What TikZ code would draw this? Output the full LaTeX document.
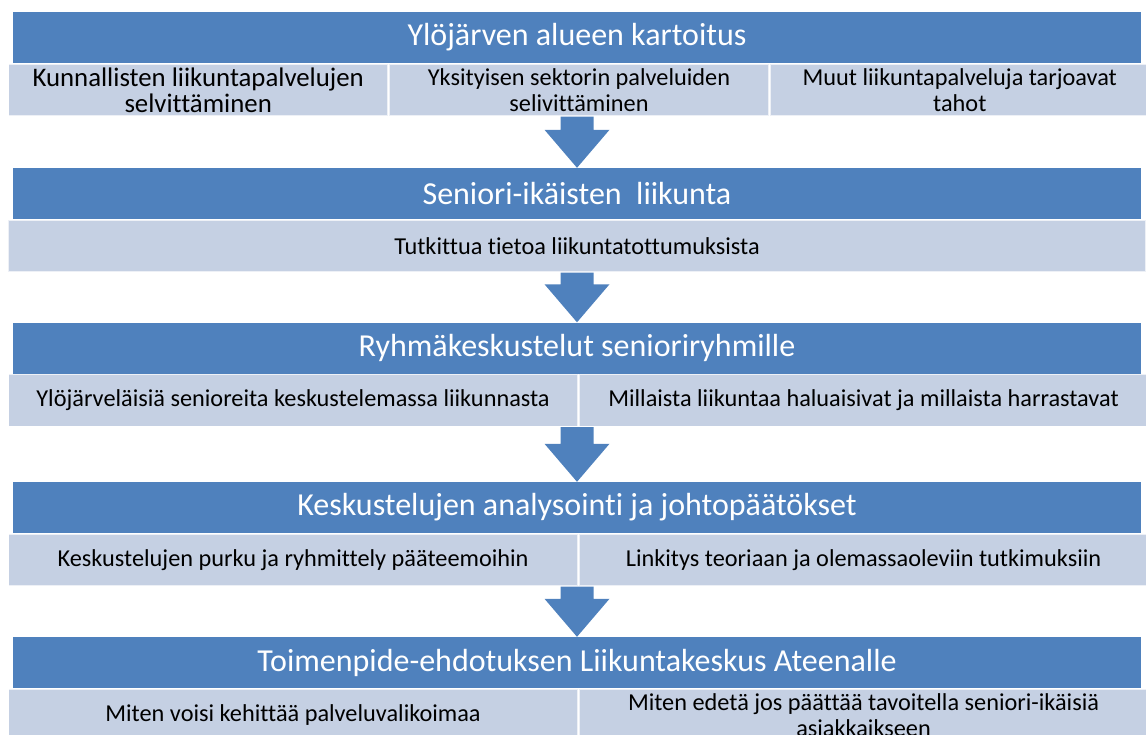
\documentclass[tikz,border=0pt]{standalone}
\usepackage{fontspec}
\setmainfont{Carlito}[Ligatures=CommonOff]
\usetikzlibrary{positioning}

\definecolor{headblue}{RGB}{79,129,189}
\definecolor{subblue}{RGB}{197,208,227}

\begin{document}
\begin{tikzpicture}[x=1pt, y=-1pt,
  header/.style={fill=headblue, text=white, minimum width=1128pt, minimum height=51pt,
    inner sep=0pt, font=\fontsize{32}{36}\selectfont},
  subbox/.style={fill=subblue, draw=white, draw opacity=0.7, line width=1.5pt,
    minimum height=52pt, inner sep=2pt, align=center, font=\fontsize{24.3}{26}\selectfont}]

\useasboundingbox (0,0) rectangle (1146,734);

% Headers
\node[header] (h1) at (577,37.5) {Ylöjärven alueen kartoitus};
\node[header] (h2) at (577,193.5) {Seniori-ikäisten\ \ liikunta};
\node[header] (h3) at (577,348) {Ryhmäkeskustelut senioriryhmille};
\node[header] (h4) at (577,507.5) {Keskustelujen analysointi ja johtopäätökset};
\node[header] (h5) at (577,662.5) {Toimenpide-ehdotuksen Liikuntakeskus Ateenalle};

% Band 1
\node[subbox, minimum width=379.3pt, anchor=north west, font=\fontsize{26.8}{26}\selectfont] (s1a)
  at ([xshift=-5pt]h1.south west) {Kunnallisten liikuntapalvelujen\\selvittäminen};
\node[subbox, minimum width=379.3pt, right=0pt of s1a] (s1b) {Yksityisen sektorin palveluiden\\selivittäminen};
\node[subbox, minimum width=379.3pt, right=0pt of s1b] (s1c) {Muut liikuntapalveluja tarjoavat\\tahot};

% Band 2
\node[subbox, minimum width=1138pt, below=0pt of h2] (s2) {Tutkittua tietoa liikuntatottumuksista};

% Band 3
\node[subbox, minimum width=569pt, anchor=north west] (s3a)
  at ([xshift=-5pt]h3.south west) {Ylöjärveläisiä senioreita keskustelemassa liikunnasta};
\node[subbox, minimum width=569pt, right=0pt of s3a] (s3b) {Millaista liikuntaa haluaisivat ja millaista harrastavat};

% Band 4
\node[subbox, minimum width=569pt, anchor=north west] (s4a)
  at ([xshift=-5pt]h4.south west) {Keskustelujen purku ja ryhmittely pääteemoihin};
\node[subbox, minimum width=569pt, right=0pt of s4a] (s4b) {Linkitys teoriaan ja olemassaoleviin tutkimuksiin};

% Band 5
\node[subbox, minimum width=569pt, anchor=north west] (s5a)
  at ([xshift=-5pt]h5.south west) {Miten voisi kehittää palveluvalikoimaa};
\node[subbox, minimum width=569pt, right=0pt of s5a] (s5b) {Miten edetä jos päättää tavoitella seniori-ikäisiä\\asiakkaikseen};

% Block arrows
\foreach \s/\h in {s1a/h2, s2/h3, s3a/h4, s4a/h5}
  \fill[headblue] ([xshift=-16.5pt]\h.north |- \s.south) |- ([shift={(-32.5,-38)}]\h.north)
    -- (\h.north) -- ([shift={(32.5,-38)}]\h.north) -| ([xshift=16.5pt]\h.north |- \s.south) -- cycle;

\end{tikzpicture}
\end{document}
